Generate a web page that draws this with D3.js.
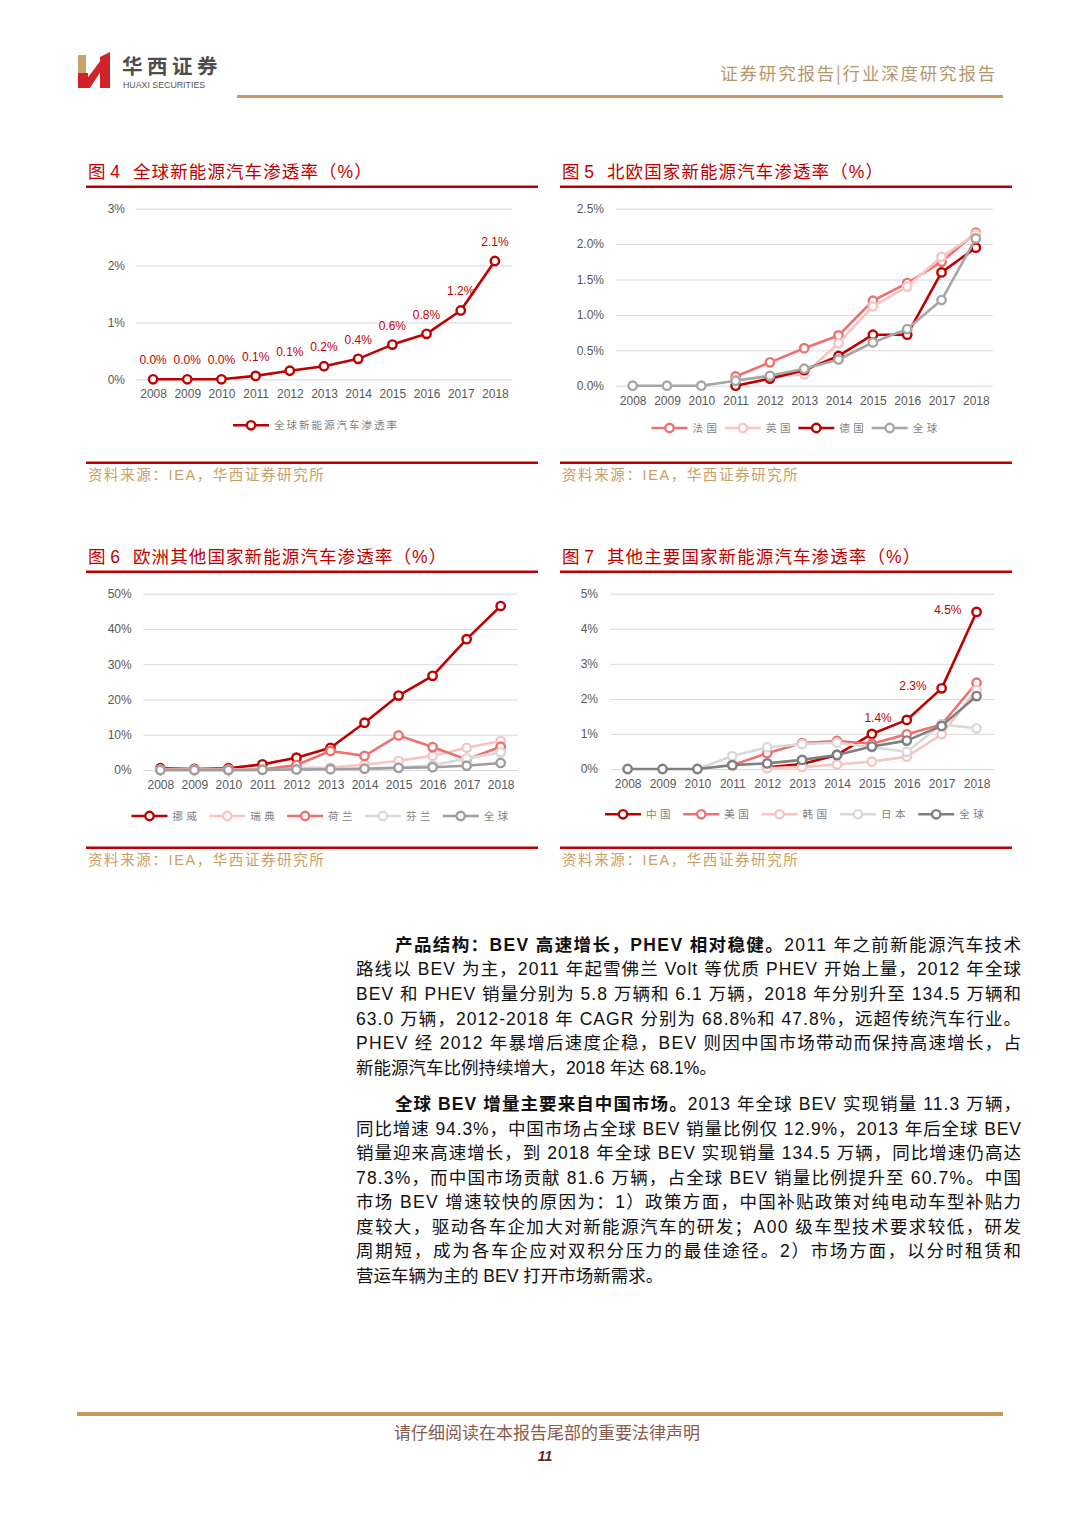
<!DOCTYPE html>
<html><head><meta charset="utf-8">
<script src="https://cdn.jsdelivr.net/npm/d3@7/dist/d3.min.js"></script>
<style>html,body{margin:0;padding:0;background:#fff;}svg{display:block}</style>
</head><body><svg id="page" width="1080" height="1527"></svg>
<script>
// ---------- DATA ----------
const years = ["2008","2009","2010","2011","2012","2013","2014","2015","2016","2017","2018"];

// Fig 4: global NEV penetration (%)
const globalRate4 = [0, 0, 0, 0.06, 0.15, 0.23, 0.36, 0.61, 0.80, 1.21, 2.08];
const globalLabels4 = ["0.0%","0.0%","0.0%","0.1%","0.1%","0.2%","0.4%","0.6%","0.8%","1.2%","2.1%"];
const ticks4 = [0, 1, 2, 3];

// Fig 5: Northern Europe
const franceRate  = [null, null, null, 0.13, 0.33, 0.53, 0.71, 1.20, 1.45, 1.75, 2.16];
const ukRate      = [null, null, null, 0.08, 0.13, 0.16, 0.60, 1.12, 1.40, 1.82, 2.14];
const germanyRate = [null, null, null, 0.00, 0.10, 0.22, 0.42, 0.72, 0.72, 1.60, 1.95];
const globalRate5 = [0, 0, 0, 0.07, 0.14, 0.24, 0.37, 0.61, 0.80, 1.21, 2.08];
const ticks5 = [0, 0.5, 1.0, 1.5, 2.0, 2.5];

// Fig 6: other European countries
const norwayRate      = [0.5, 0.3, 0.5, 1.6, 3.5, 6.3, 13.4, 21.1, 26.7, 37.1, 46.5];
const swedenRate      = [0.1, 0.1, 0.1, 0.2, 0.6, 0.7, 1.5, 2.6, 4.0, 6.3, 8.2];
const netherlandsRate = [0, 0, 0, 0.1, 1.4, 5.4, 4.0, 9.8, 6.5, 3.0, 6.6];
const finlandRate     = [0, 0, 0, 0, 0.1, 0.2, 0.4, 0.7, 1.3, 3.3, 5.0];
const globalRate6     = [0, 0, 0, 0.06, 0.15, 0.23, 0.36, 0.61, 0.80, 1.21, 2.0];
const ticks6 = [0, 10, 20, 30, 40, 50];

// Fig 7: other major countries
const chinaRate  = [null, null, null, null, 0.05, 0.14, 0.40, 1.00, 1.40, 2.30, 4.48];
const chinaLabels = [null, null, null, null, null, null, null, null, "1.4%", "2.3%", "4.5%"];
const usaRate    = [null, null, null, 0.11, 0.45, 0.74, 0.80, 0.72, 0.99, 1.27, 2.46];
const koreaRate  = [null, null, null, null, 0.02, 0.06, 0.13, 0.21, 0.35, 0.99, 2.25];
const japanRate  = [null, null, 0, 0.37, 0.62, 0.71, 0.75, 0.62, 0.49, 1.27, 1.16];
const globalRate7 = [0, 0, 0, 0.11, 0.16, 0.26, 0.40, 0.64, 0.81, 1.23, 2.08];
const ticks7 = [0, 1, 2, 3, 4, 5];

// ---------- STYLE ----------
const C = {
  dark: "#c00000", salmon: "#f07070", pink: "#f9c4c4", lgray: "#d9d9d9",
  gray: "#a6a6a6", gray6: "#9e9e9e", gray7: "#7f7f7f",
  grid: "#d9d9d9", tick: "#595959", legend: "#7f7f7f", gold: "#c69a5e", source: "#c9a063"
};
const LATIN = "'Liberation Sans', Arial, 'Noto Sans CJK SC', sans-serif";
const CJK = "'Noto Sans CJK SC', 'Liberation Sans', sans-serif";

const svg = d3.select("#page");
svg.append("rect").attr("width",1080).attr("height",1527).attr("fill","#fff");

// ---------- HEADER ----------
const hdr = svg.append("g");
hdr.append("rect").attr("x",78).attr("y",55).attr("width",8).attr("height",20).attr("fill","#c9a46a");
hdr.append("rect").attr("x",78).attr("y",73).attr("width",10).attr("height",15).attr("fill","#d1232a");
hdr.append("path").attr("d","M86,80 L101,60 L101,71 L90,88 L86,88 Z").attr("fill","#d1232a");
hdr.append("path").attr("d","M100,57 L110,52 L110,88 L100,88 Z").attr("fill","#d1232a");
hdr.append("text").attr("x",122).attr("y",74).attr("font-family",CJK).attr("font-weight",700)
  .attr("font-size",20.5).attr("letter-spacing",4.5).attr("fill","#4d4d4d").text("华西证券");
hdr.append("text").attr("x",123).attr("y",88).attr("font-family",LATIN)
  .attr("font-size",8.8).attr("fill","#555").text("HUAXI SECURITIES");
hdr.append("text").attr("x",997).attr("y",80).attr("text-anchor","end").attr("font-family",CJK)
  .attr("font-size",17.5).attr("letter-spacing",1.8).attr("fill","#b8966b").text("证券研究报告|行业深度研究报告");
hdr.append("line").attr("x1",237).attr("x2",1003).attr("y1",96.5).attr("y2",96.5)
  .attr("stroke",C.gold).attr("stroke-width",3);

// ---------- CHART FUNCTION ----------
function drawChart(cfg) {
  const g = svg.append("g");
  // title + rules + source
  const tt = g.append("text").attr("y",cfg.titleY).attr("font-family",LATIN)
    .attr("font-size",17.5).attr("fill",C.dark);
  tt.append("tspan").attr("x",cfg.x0+2).text(cfg.figNo);
  tt.append("tspan").attr("x",cfg.x0+47).attr("letter-spacing",1.1).text(cfg.title);
  g.append("line").attr("x1",cfg.x0).attr("x2",cfg.x1).attr("y1",cfg.titleY+8.7).attr("y2",cfg.titleY+8.7)
    .attr("stroke",C.dark).attr("stroke-width",2.6);
  g.append("line").attr("x1",cfg.x0).attr("x2",cfg.x1).attr("y1",cfg.ruleY).attr("y2",cfg.ruleY)
    .attr("stroke",C.dark).attr("stroke-width",2.4);
  g.append("text").attr("x",cfg.x0+2).attr("y",cfg.ruleY+17).attr("font-family",LATIN)
    .attr("font-size",14.5).attr("letter-spacing",1.6).attr("fill",C.source).text("资料来源：IEA，华西证券研究所");

  const x = d3.scalePoint().domain(years).range([cfg.left, cfg.right]).padding(0.5);
  const y = d3.scaleLinear().domain([0, cfg.yMax]).range([cfg.bottom, cfg.top]);

  const ya = g.append("g").attr("transform",`translate(${cfg.left},0)`)
    .call(d3.axisLeft(y).tickValues(cfg.ticks).tickSize(-(cfg.right-cfg.left))
      .tickPadding(cfg.left-cfg.labelX).tickFormat(cfg.fmt));
  ya.select(".domain").remove();
  ya.selectAll(".tick line").attr("stroke",C.grid).attr("stroke-width",1);
  ya.selectAll(".tick text").attr("fill",C.tick).attr("font-family",LATIN).attr("font-size",12);

  const xa = g.append("g").attr("transform",`translate(0,${cfg.bottom})`)
    .call(d3.axisBottom(x).tickSize(0).tickPadding(10.5));
  xa.select(".domain").remove();
  xa.selectAll(".tick text").attr("fill",C.tick).attr("font-family",LATIN).attr("font-size",12);

  const line = d3.line().defined(d => d.v != null).x(d => x(d.year)).y(d => y(d.v));
  cfg.series.forEach(s => {
    const pts = years.map((yr,i) => ({year: yr, v: s.values[i], label: s.labels ? s.labels[i] : null}));
    const sg = g.append("g");
    sg.append("path").datum(pts).attr("d",line).attr("fill","none")
      .attr("stroke",s.color).attr("stroke-width",2.6).attr("stroke-linejoin","round");
    sg.selectAll("circle").data(pts.filter(d => d.v != null)).join("circle")
      .attr("cx",d => x(d.year)).attr("cy",d => y(d.v)).attr("r",4.2)
      .attr("fill","#fff").attr("stroke",s.color).attr("stroke-width",2.4);
    if (s.labels) {
      const lp = pts.filter(d => d.label);
      sg.selectAll("text.lbl").data(lp).join("text").attr("class","lbl")
        .attr("x",d => s.labelPos === "left" ? x(d.year)-15 : x(d.year))
        .attr("y",d => s.labelPos === "left" ? y(d.v)+2 : y(d.v)-15)
        .attr("text-anchor", s.labelPos === "left" ? "end" : "middle")
        .attr("font-family",LATIN).attr("font-size",12).attr("fill",C.dark).text(d => d.label);
    }
  });

  // legend
  const lg = g.append("g");
  cfg.series.forEach((s,i) => {
    const lx = cfg.legendX + i*cfg.legendStep;
    lg.append("line").attr("x1",lx).attr("x2",lx+36).attr("y1",cfg.legendY).attr("y2",cfg.legendY)
      .attr("stroke",s.color).attr("stroke-width",2.6);
    lg.append("circle").attr("cx",lx+18).attr("cy",cfg.legendY).attr("r",4.2)
      .attr("fill","#fff").attr("stroke",s.color).attr("stroke-width",2.4);
    lg.append("text").attr("x",lx+41).attr("y",cfg.legendY+3.8).attr("font-family",CJK)
      .attr("font-size",10.5).attr("letter-spacing",cfg.legendSpacing).attr("fill",C.legend).text(s.name);
  });
}

const pct0 = d => d3.format(".0f")(d) + "%";
const pct1 = d => d3.format(".1f")(d) + "%";

drawChart({
  figNo: "图 4", title: "全球新能源汽车渗透率（%）", x0: 86, x1: 538, titleY: 178, ruleY: 462.7,
  left: 136, right: 512, top: 208.7, bottom: 379.3, labelX: 125, yMax: 3, ticks: ticks4, fmt: pct0,
  legendX: 233, legendStep: 0, legendY: 425.3, legendSpacing: 2,
  series: [{name: "全球新能源汽车渗透率", values: globalRate4, color: C.dark, labels: globalLabels4, labelPos: "top"}]
});
drawChart({
  figNo: "图 5", title: "北欧国家新能源汽车渗透率（%）", x0: 560, x1: 1012, titleY: 178, ruleY: 462.7,
  left: 615.5, right: 993, top: 208.7, bottom: 385.7, labelX: 604, yMax: 2.5, ticks: ticks5, fmt: pct1,
  legendX: 651.5, legendStep: 73.4, legendY: 428, legendSpacing: 3.5,
  series: [
    {name: "法国", values: franceRate, color: C.salmon},
    {name: "英国", values: ukRate, color: C.pink},
    {name: "德国", values: germanyRate, color: C.dark},
    {name: "全球", values: globalRate5, color: C.gray}
  ]
});
drawChart({
  figNo: "图 6", title: "欧洲其他国家新能源汽车渗透率（%）", x0: 86, x1: 538, titleY: 563, ruleY: 847.7,
  left: 143.3, right: 517.7, top: 593.7, bottom: 770, labelX: 131.7, yMax: 50, ticks: ticks6, fmt: pct0,
  legendX: 131.5, legendStep: 77.8, legendY: 816, legendSpacing: 3.5,
  series: [
    {name: "挪威", values: norwayRate, color: C.dark},
    {name: "瑞典", values: swedenRate, color: C.pink},
    {name: "荷兰", values: netherlandsRate, color: C.salmon},
    {name: "芬兰", values: finlandRate, color: C.lgray},
    {name: "全球", values: globalRate6, color: C.gray6}
  ]
});
drawChart({
  figNo: "图 7", title: "其他主要国家新能源汽车渗透率（%）", x0: 560, x1: 1012, titleY: 563, ruleY: 847.7,
  left: 610.2, right: 994, top: 593.7, bottom: 769, labelX: 598, yMax: 5, ticks: ticks7, fmt: pct0,
  legendX: 605, legendStep: 78.3, legendY: 814.3, legendSpacing: 3.5,
  series: [
    {name: "中国", values: chinaRate, color: C.dark, labels: chinaLabels, labelPos: "left"},
    {name: "美国", values: usaRate, color: C.salmon},
    {name: "韩国", values: koreaRate, color: C.pink},
    {name: "日本", values: japanRate, color: C.lgray},
    {name: "全球", values: globalRate7, color: C.gray7}
  ]
});

// ---------- BODY TEXT ----------
const para1 = [
  {indent: true, just: true, parts: [["b","产品结构：BEV 高速增长，PHEV 相对稳健。"],["n","2011 年之前新能源汽车技术"]]},
  {just: true, parts: [["n","路线以 BEV 为主，2011 年起雪佛兰 Volt 等优质 PHEV 开始上量，2012 年全球"]]},
  {just: true, parts: [["n","BEV 和 PHEV 销量分别为 5.8 万辆和 6.1 万辆，2018 年分别升至 134.5 万辆和"]]},
  {just: true, parts: [["n","63.0 万辆，2012-2018 年 CAGR 分别为 68.8%和 47.8%，远超传统汽车行业。"]]},
  {just: true, parts: [["n","PHEV 经 2012 年暴增后速度企稳，BEV 则因中国市场带动而保持高速增长，占"]]},
  {just: false, parts: [["n","新能源汽车比例持续增大，2018 年达 68.1%。"]]}
];
const para2 = [
  {indent: true, just: true, parts: [["b","全球 BEV 增量主要来自中国市场。"],["n","2013 年全球 BEV 实现销量 11.3 万辆，"]]},
  {just: true, parts: [["n","同比增速 94.3%，中国市场占全球 BEV 销量比例仅 12.9%，2013 年后全球 BEV"]]},
  {just: true, parts: [["n","销量迎来高速增长，到 2018 年全球 BEV 实现销量 134.5 万辆，同比增速仍高达"]]},
  {just: true, parts: [["n","78.3%，而中国市场贡献 81.6 万辆，占全球 BEV 销量比例提升至 60.7%。中国"]]},
  {just: true, parts: [["n","市场 BEV 增速较快的原因为：1）政策方面，中国补贴政策对纯电动车型补贴力"]]},
  {just: true, parts: [["n","度较大，驱动各车企加大对新能源汽车的研发；A00 级车型技术要求较低，研发"]]},
  {just: true, parts: [["n","周期短，成为各车企应对双积分压力的最佳途径。2）市场方面，以分时租赁和"]]},
  {just: false, parts: [["n","营运车辆为主的 BEV 打开市场新需求。"]]}
];
function drawPara(lines, y0, pitch) {
  const g = svg.append("g");
  lines.forEach((ln, i) => {
    const x = ln.indent ? 395 : 356;
    const t = g.append("text").attr("x",x).attr("y",y0 + i*pitch)
      .attr("font-family",LATIN).attr("font-size",17.5).attr("fill","#111");
    if (ln.just) t.attr("textLength",1021 - x).attr("lengthAdjust","spacing");
    ln.parts.forEach(p => {
      t.append("tspan").attr("font-weight",p[0]==="b"?700:400).text(p[1]);
    });
  });
}
drawPara(para1, 950.5, 24.7);
drawPara(para2, 1110, 24.57);

// ---------- FOOTER ----------
svg.append("line").attr("x1",77).attr("x2",1003).attr("y1",1414).attr("y2",1414)
  .attr("stroke",C.gold).attr("stroke-width",4);
svg.append("text").attr("x",547).attr("y",1439).attr("text-anchor","middle").attr("font-family",CJK)
  .attr("font-size",17).attr("fill","#8a5a4a").text("请仔细阅读在本报告尾部的重要法律声明");
svg.append("text").attr("x",545).attr("y",1461).attr("text-anchor","middle").attr("font-family",LATIN)
  .attr("font-size",14).attr("font-weight",700).attr("font-style","italic").attr("fill","#6e1d1d").text("11");
</script></body></html>
